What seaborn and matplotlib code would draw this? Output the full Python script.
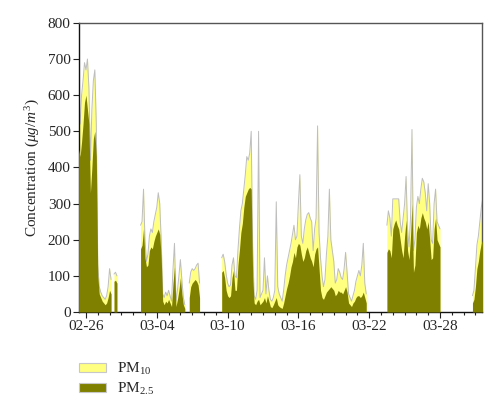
import numpy as np
import pandas as pd
import matplotlib
matplotlib.use("Agg")
import matplotlib.pyplot as plt
import matplotlib.dates as mdates
from matplotlib.patches import Patch
import seaborn as sns

# ---------------- data (3-hourly readings, hours relative to 02-26 00:00) ----------------
base_date = "2014-02-26 00:00"
step_hours = 3

seg_start_hours = [-15, 57, 111, 210, 276, 612, 786]

pm10_seg1 = [570, 520, 600, 640, 690, 670, 700, 620, 420, 560, 640, 670, 520, 130,
             70, 55, 45, 40, 35, 45, 70, 120, 90]
pm25_seg1 = [450, 430, 470, 520, 580, 600, 560, 520, 330, 400, 480, 500, 430, 100,
             50, 40, 30, 25, 20, 25, 40, 60, 50]

pm10_seg2 = [105, 110, 100]
pm25_seg2 = [85, 88, 80]

pm10_seg3 = [240, 250, 340, 200, 140, 160, 210, 230, 220, 250, 270, 290, 330, 300, 200,
             50, 40, 55, 45, 60, 45, 30, 120, 190, 30, 60, 100, 145, 90, 40, 20]
pm25_seg3 = [175, 185, 230, 150, 125, 130, 170, 180, 175, 195, 210, 220, 230, 215, 150,
             30, 20, 30, 25, 35, 25, 15, 80, 125, 15, 35, 60, 95, 50, 20, 10]

pm10_seg4 = [80, 110, 120, 115, 120, 130, 135, 80]
pm25_seg4 = [40, 70, 80, 85, 90, 85, 75, 40]

pm10_seg5 = [150, 160, 140, 105, 80, 70, 75, 130, 150, 100, 95, 170, 230, 280, 300, 340,
             380, 430, 420, 440, 500, 180, 45, 35, 60, 500, 40, 50, 60, 150, 50, 100,
             60, 35, 30, 40, 60, 305, 70, 50, 40, 30, 60, 100, 130, 150, 170, 190, 215,
             240, 200, 210, 300, 380, 210, 190, 230, 255, 270, 275, 260, 250, 170, 230,
             260, 515, 220, 150, 100, 70, 90, 160, 210, 340, 200, 170, 140, 80, 90, 120,
             110, 95, 90, 120, 165, 110, 50, 40, 30, 45, 60, 85, 100, 115, 100, 130,
             190, 80, 50]
pm25_seg5 = [110, 115, 95, 60, 45, 40, 45, 95, 115, 60, 60, 130, 170, 220, 245, 290,
             320, 330, 340, 345, 340, 100, 25, 20, 30, 35, 20, 25, 30, 40, 25, 45,
             30, 15, 12, 20, 30, 40, 20, 15, 12, 10, 25, 45, 65, 80, 100, 125, 140,
             165, 150, 180, 190, 185, 160, 140, 150, 170, 180, 165, 150, 140, 125, 160,
             175, 180, 120, 60, 40, 35, 45, 55, 60, 65, 70, 65, 60, 45, 50, 60,
             55, 55, 50, 60, 70, 55, 25, 20, 15, 25, 30, 40, 45, 45, 40, 45,
             55, 40, 25]

pm10_seg6 = [240, 280, 260, 210, 313, 313, 313, 313, 313, 250, 220, 260, 300, 375, 230,
             180, 260, 505, 170, 200, 290, 320, 300, 340, 370, 360, 330, 280, 355, 300,
             200, 190, 300, 340, 250, 240, 230]
pm25_seg6 = [165, 175, 170, 150, 230, 245, 255, 240, 230, 200, 170, 150, 210, 255, 170,
             145, 210, 300, 110, 130, 220, 240, 230, 260, 275, 260, 250, 230, 250, 200,
             145, 150, 230, 260, 200, 190, 180]

pm10_seg7 = [45, 60, 120, 185, 210, 250, 290, 315]
pm25_seg7 = [25, 35, 70, 120, 140, 170, 190, 200]

pm10_segments = [pm10_seg1, pm10_seg2, pm10_seg3, pm10_seg4, pm10_seg5, pm10_seg6, pm10_seg7]
pm25_segments = [pm25_seg1, pm25_seg2, pm25_seg3, pm25_seg4, pm25_seg5, pm25_seg6, pm25_seg7]

tick_labels = ["02-26", "03-04", "03-10", "03-16", "03-22", "03-28"]
y_ticks = [0, 100, 200, 300, 400, 500, 600, 700, 800]
series_names = ["PM$_{10}$", "PM$_{2.5}$"]

# ---------------- build table ----------------
base = pd.Timestamp(base_date)
frames = []
for i, (h0, p10, p25) in enumerate(zip(seg_start_hours, pm10_segments, pm25_segments)):
    hours = h0 + step_hours * np.arange(len(p10))
    frames.append(pd.DataFrame({
        "time": base + pd.to_timedelta(hours, unit="h"),
        "pm10": p10, "pm25": p25, "seg": i}))
df = pd.concat(frames, ignore_index=True)

# ---------------- style ----------------
sns.set_style("ticks")
plt.rcParams["font.family"] = ["Liberation Serif", "DejaVu Serif"]
plt.rcParams["mathtext.fontset"] = "custom"
plt.rcParams["mathtext.rm"] = "Liberation Serif"
plt.rcParams["mathtext.it"] = "Liberation Serif:italic"

yellow = "#FFFF80"
olive = "#808000"
grey = "#BEBEBE"

fig = plt.figure(figsize=(5.0, 4.16), dpi=100)
ax = fig.add_axes([0.158, 0.25, 0.806, 0.695])

for s, g in df.groupby("seg"):
    t = g["time"].to_numpy()
    ax.fill_between(t, 0, g["pm10"].to_numpy(), color=yellow, lw=0, zorder=1)
    ax.fill_between(t, 0, g["pm25"].to_numpy(), color=olive, lw=0, zorder=3)

sns.lineplot(data=df, x="time", y="pm10", units="seg", estimator=None,
             color=grey, lw=0.7, ax=ax, zorder=2)

ax.set_xlim(base - pd.Timedelta(hours=14.2), base + pd.Timedelta(hours=805.4))
ax.set_ylim(0, 800)
ax.set_yticks(y_ticks)
ax.set_xticks([pd.Timestamp("2014-" + lab) for lab in tick_labels])
ax.set_xticklabels(tick_labels)
ax.xaxis.set_minor_locator(mdates.DayLocator())
ax.tick_params(axis="both", which="major", direction="out", length=4, width=0.8,
               labelsize=11, color="#222222", pad=2)
ax.tick_params(axis="x", which="minor", direction="out", length=2.5, width=0.8, color="#222222")
ax.set_xlabel("")
ax.set_ylabel(r"Concentration ($\mu g/m^3$)", fontsize=11, labelpad=4)

for side in ["left", "bottom"]:
    ax.spines[side].set_color("#111111")
    ax.spines[side].set_linewidth(1.0)
for side in ["top", "right"]:
    ax.spines[side].set_visible(True)
    ax.spines[side].set_color("#555555")
    ax.spines[side].set_linewidth(1.0)

handles = [Patch(facecolor=yellow, edgecolor="#C8C8C8", lw=0.8),
           Patch(facecolor=olive, edgecolor="#C8C8C8", lw=0.8)]
fig.legend(handles, series_names, loc="upper left", bbox_to_anchor=(0.145, 0.147),
           frameon=False, fontsize=11, handlelength=1.8, handleheight=0.6,
           handletextpad=0.7, labelspacing=0.25, borderaxespad=0)

fig.savefig("out.png", dpi=100)
